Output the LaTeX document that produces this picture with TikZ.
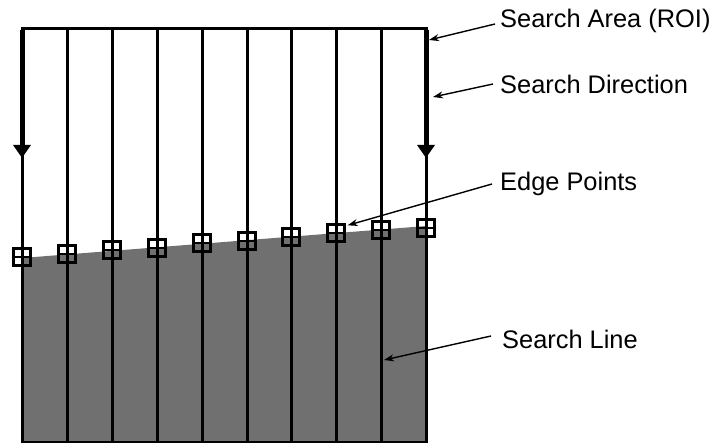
\documentclass[tikz,border=0pt]{standalone}
\usepackage{fontspec}
\setmainfont{Liberation Sans}
\usetikzlibrary{arrows.meta}
\definecolor{roigray}{RGB}{112,112,112}
\begin{document}
\begin{tikzpicture}[x=1pt,y=-1pt,
  searchline/.style={line width=3pt},
  dirarrow/.style={line width=5pt,-{Triangle[width=17pt,length=13pt]}},
  edgept/.style={draw,line width=2.4pt,minimum size=17pt,inner sep=0pt,
    path picture={\draw[line width=2.2pt] (path picture bounding box.west)--(path picture bounding box.east);}},
  lbl/.style={anchor=west,inner sep=0pt,font=\fontsize{25.4}{30}\selectfont},
  callout/.style={line width=1.4pt,-{Stealth[length=10pt,width=7pt]}}]
\useasboundingbox (0,0) rectangle (714,443);
% gray region below the edge
\fill[roigray] (22,258) -- (426,226) -- (426,443) -- (22,443) -- cycle;
% search lines
\foreach \i/\x in {1/22,2/67,3/112,4/157,5/202,6/247,7/291,8/336,9/381,10/426}{
  \coordinate (t\i) at (\x,29);
  \coordinate (b\i) at (\x,443);
  \draw[searchline] (t\i) -- (b\i);
}
\draw[searchline] ([xshift=-1.5pt]t1) -- ([xshift=1.5pt]t10);
\draw[line width=2pt] (22,442) -- (426,442);
% search direction arrows
\coordinate (d1) at (22,158);
\coordinate (d10) at (426,158);
\draw[dirarrow] ([yshift=-1.5pt]t1) -- (d1);
\draw[dirarrow] ([yshift=-1.5pt]t10) -- (d10);
% edge points
\foreach \i/\x/\y in {1/22/257,2/67/254,3/112/250,4/157/248,5/202/243,6/247/241,7/291/237,8/336/233,9/381/230,10/426/228}{
  \node[edgept] (e\i) at (\x,\y) {};
}
% labels
\node[lbl] (roi) at (500,21) {Search Area (ROI)};
\node[lbl] (dir) at (500,84) {Search Direction};
\node[lbl] (edg) at (500,184) {Edge Points};
\node[lbl] (sl) at (502,339) {Search Line};
\coordinate (roiend) at (429,40);
\coordinate (dirend) at (433,97);
\coordinate (slend) at (384,360);
\draw[callout] ([xshift=-5pt,yshift=-3pt]roi.west) -- (roiend);
\draw[callout] ([xshift=-7pt]dir.west) -- (dirend);
\draw[callout] ([xshift=-8pt]edg.west) -- ([xshift=2pt,yshift=-2pt]e8.north east);
\draw[callout] ([xshift=-11pt,yshift=3pt]sl.west) -- (slend);
\end{tikzpicture}
\end{document}
